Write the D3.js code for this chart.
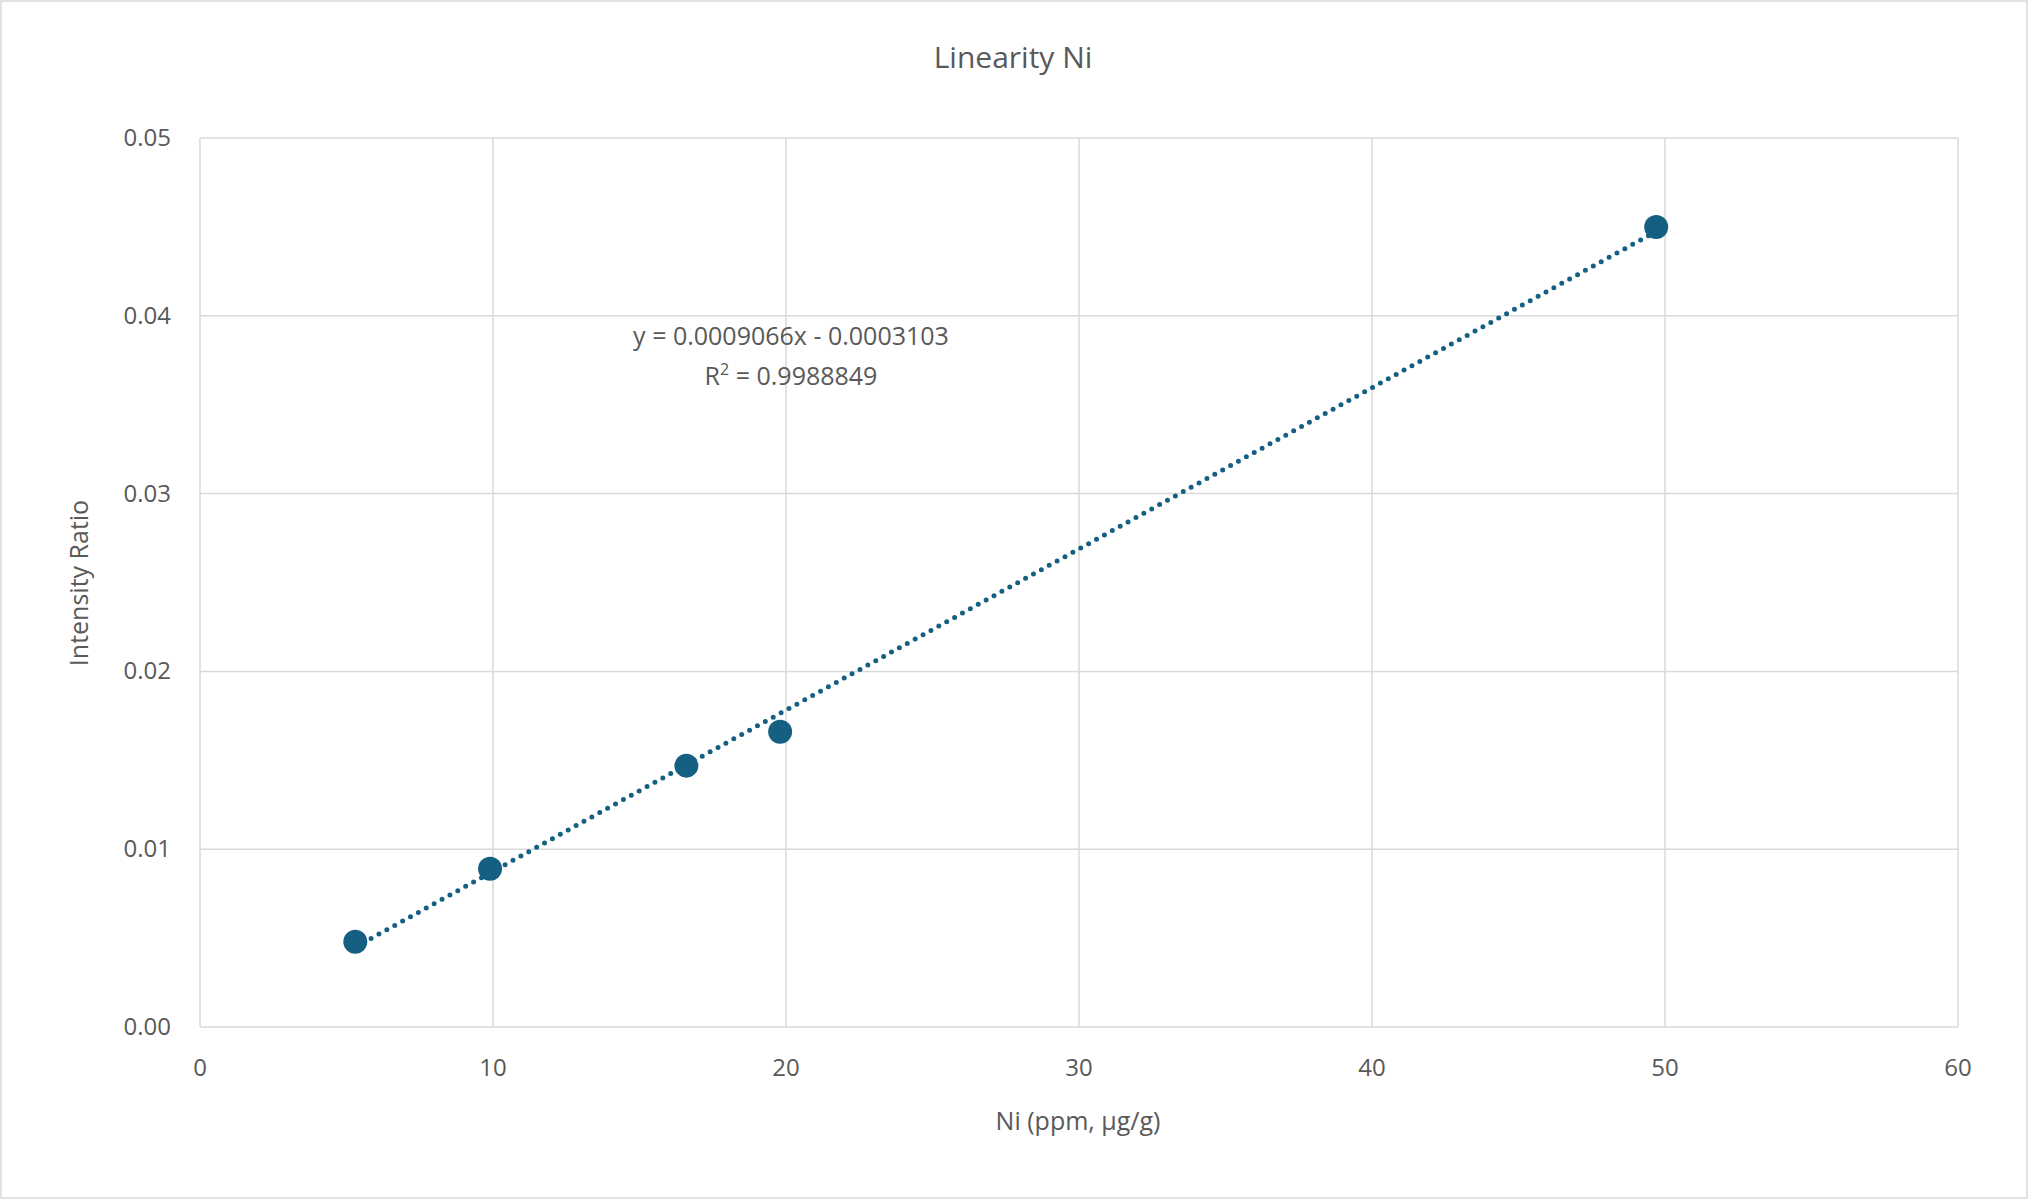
<!DOCTYPE html>
<html><head><meta charset="utf-8">
<script src="https://cdn.jsdelivr.net/npm/d3@7"></script>
<style>body{margin:0;background:#fff;font-family:"Open Sans",Roboto,sans-serif}</style>
</head><body><svg id="c" width="2028" height="1199"></svg>
<script>
// data
const niPpm = [5.3, 9.9, 16.6, 19.8, 49.7]
const ratio = [0.0048, 0.0089, 0.0147, 0.0166, 0.0450]
const slope = 0.0009066, intercept = -0.0003103
const xTicks = [0, 10, 20, 30, 40, 50, 60]
const yTicks = [0, 0.01, 0.02, 0.03, 0.04, 0.05]

const col = '#156082', txt = '#595959', grid = '#d9d9d9'
const margin = {top: 138, right: 70, bottom: 172, left: 200}
const W = 2028, H = 1199
const svg = d3.select('#c')
svg.append('rect').attr('x', 1).attr('y', 1).attr('width', W - 2).attr('height', H - 2)
  .attr('fill', '#fff').attr('stroke', '#d9d9d9').attr('stroke-width', 1.5)

const x = d3.scaleLinear().domain([0, 60]).range([margin.left, W - margin.right])
const y = d3.scaleLinear().domain([0, 0.05]).range([H - margin.bottom, margin.top])

const g = svg.append('g')
g.selectAll('.vg').data(xTicks).enter().append('line')
  .attr('x1', d => x(d)).attr('x2', d => x(d)).attr('y1', y(0)).attr('y2', y(0.05))
  .attr('stroke', grid).attr('stroke-width', 1.5)
g.selectAll('.hg').data(yTicks).enter().append('line')
  .attr('x1', x(0)).attr('x2', x(60)).attr('y1', d => y(d)).attr('y2', d => y(d))
  .attr('stroke', grid).attr('stroke-width', 1.5)

g.selectAll('.xt').data(xTicks).enter().append('text')
  .attr('x', d => x(d)).attr('y', y(0) + 49).attr('text-anchor', 'middle')
  .attr('font-size', 24).attr('fill', txt).text(d => d)
g.selectAll('.yt').data(yTicks).enter().append('text')
  .attr('x', x(0) - 29).attr('y', d => y(d) + 8).attr('text-anchor', 'end')
  .attr('font-size', 24).attr('fill', txt).text(d => d.toFixed(2))

// trendline
const xs = d3.extent(niPpm)
g.append('line').attr('x1', x(xs[0])).attr('x2', x(xs[1]))
  .attr('y1', y(slope * xs[0] + intercept)).attr('y2', y(slope * xs[1] + intercept))
  .attr('stroke', col).attr('stroke-width', 5).attr('stroke-dasharray', '0 9')
  .attr('stroke-linecap', 'round')

g.selectAll('.pt').data(niPpm).enter().append('circle')
  .attr('cx', d => x(d)).attr('cy', (d, i) => y(ratio[i])).attr('r', 12).attr('fill', col)

svg.append('text').attr('x', 1013).attr('y', 68).attr('text-anchor', 'middle')
  .attr('font-size', 30).attr('fill', txt).text('Linearity Ni')
svg.append('text').attr('x', 1078).attr('y', 1130).attr('text-anchor', 'middle')
  .attr('font-size', 25).attr('fill', txt).text('Ni (ppm, µg/g)')
svg.append('text').attr('transform', 'translate(88,583) rotate(-90)').attr('text-anchor', 'middle')
  .attr('font-size', 25).attr('fill', txt).text('Intensity Ratio')

svg.append('text').attr('x', 791).attr('y', 345).attr('text-anchor', 'middle')
  .attr('font-size', 25).attr('fill', txt).text('y = 0.0009066x - 0.0003103')
const r2 = svg.append('text').attr('x', 791).attr('y', 385).attr('text-anchor', 'middle')
  .attr('font-size', 25).attr('fill', txt)
r2.append('tspan').text('R')
r2.append('tspan').attr('dy', -10).attr('font-size', 16).text('2')
r2.append('tspan').attr('dy', 10).text(' = 0.9988849')
</script></body></html>
